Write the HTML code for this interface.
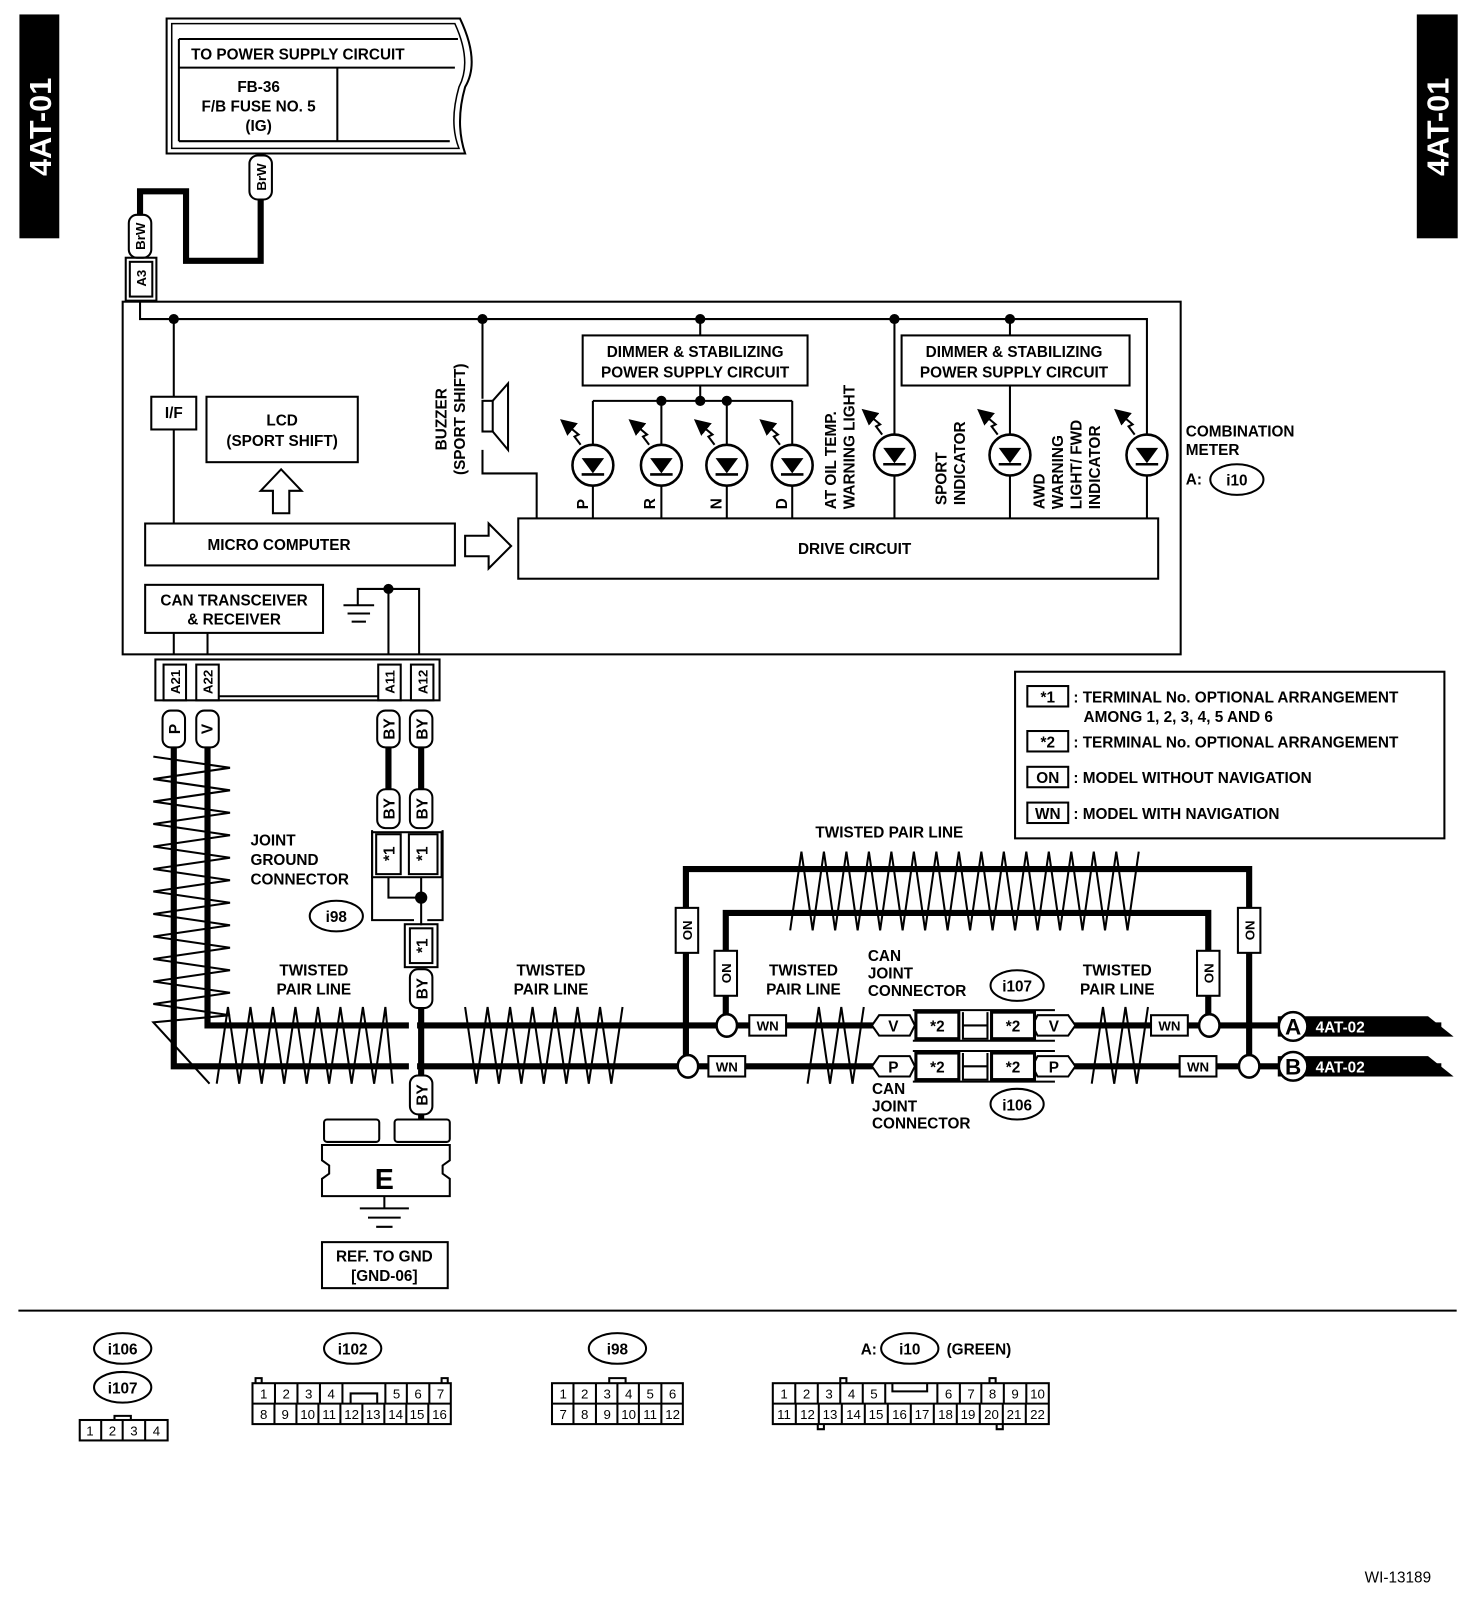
<!DOCTYPE html>
<html><head><meta charset="utf-8"><style>
html,body{margin:0;padding:0;background:#fff}
svg{display:block}
text{font-family:"Liberation Sans",sans-serif;font-weight:bold;fill:#000}
</style></head><body>
<svg width="1472" height="1598" viewBox="0 0 1440 1563" xmlns="http://www.w3.org/2000/svg">
<defs>
<marker id="ah" markerWidth="8" markerHeight="8" refX="4" refY="4" orient="auto"><path d="M0,0 L8,4 L0,8 z" fill="#000"/></marker>
<g id="led"><circle cx="0" cy="0" r="20" fill="#fff" stroke="#000" stroke-width="2.5"/><path d="M-11,-7 L11,-7 L0,8 z" fill="#000"/><line x1="-11" y1="9" x2="11" y2="9" stroke="#000" stroke-width="2.5"/>
<polyline points="-12,-20 -18,-28 -14,-30 -26,-40" fill="none" stroke="#000" stroke-width="2" marker-end="url(#ah)"/></g>
</defs>
<g fill="none" stroke="#000" stroke-width="2">
<rect x="20" y="15" width="37" height="217" fill="#000"/>
<rect x="1387" y="15" width="38" height="217" fill="#000"/>
<path d="M163,18 L450,18 Q470,60 455,85 Q445,120 455,150 L163,150 Z" stroke-width="2"/>
<path d="M168,23 L445,23 Q462,60 449,85 Q439,120 449,145 L168,145 Z" stroke-width="1.5"/>
<line x1="175" y1="38" x2="448" y2="38"/>
<line x1="175" y1="38" x2="175" y2="138"/>
<line x1="175" y1="66" x2="445" y2="66"/>
<line x1="175" y1="138" x2="440" y2="138"/>
<line x1="330" y1="66" x2="330" y2="138"/>
<path d="M255,195 L255,255 L182,255 L182,187 L137,187 L137,210" stroke-width="6"/>
<rect x="244" y="152" width="22" height="43" rx="8" fill="#fff"/>
<rect x="126" y="210" width="22" height="42" rx="8" fill="#fff"/>
<rect x="123" y="252" width="30" height="42"/>
<rect x="127" y="256" width="22" height="34"/>
<rect x="120" y="295" width="1035" height="345"/>
<path d="M137,294 L137,312 L1122,312 L1122,507"/>
<line x1="170" y1="312" x2="170" y2="512"/>
<rect x="148" y="388" width="44" height="32" fill="#fff"/>
<rect x="202" y="388" width="148" height="64"/>
<path d="M267,502 L283,502 L283,480 L295,480 L275,459 L255,480 L267,480 Z"/>
<rect x="142" y="512" width="303" height="41"/>
<path d="M455,524 L478,524 L478,512 L500,534 L478,556 L478,544 L455,544 Z"/>
<rect x="507" y="507" width="626" height="59"/>
<rect x="142" y="572" width="174" height="47"/>
<line x1="170" y1="619" x2="170" y2="640"/><line x1="203" y1="619" x2="203" y2="640"/>
<path d="M350,592 L350,576 L410,576 L410,640 M380,576 L380,640"/>
<line x1="336" y1="592" x2="366" y2="592"/><line x1="340" y1="600" x2="362" y2="600"/><line x1="344" y1="608" x2="358" y2="608"/>
<path d="M472,312 L472,390 M472,440 L472,463 L525,463 L525,507"/>
<rect x="472" y="392" width="10" height="30"/>
<path d="M482,392 L497,375 L497,440 L482,422"/>
<line x1="685" y1="312" x2="685" y2="328"/>
<rect x="570" y="328" width="220" height="49"/>
<line x1="685" y1="377" x2="685" y2="392"/>
<line x1="580" y1="392" x2="775" y2="392"/>
<line x1="580" y1="392" x2="580" y2="507"/><line x1="647" y1="392" x2="647" y2="507"/><line x1="711" y1="392" x2="711" y2="507"/><line x1="775" y1="392" x2="775" y2="507"/>
<line x1="875" y1="312" x2="875" y2="507"/>
<line x1="988" y1="312" x2="988" y2="328"/>
<rect x="882" y="328" width="223" height="49"/>
<line x1="988" y1="377" x2="988" y2="507"/>
<ellipse cx="1210" cy="469" rx="26" ry="15"/>
<rect x="152" y="645" width="278" height="40"/>
<rect x="160" y="650" width="22" height="35"/><rect x="192" y="650" width="22" height="35"/>
<rect x="370" y="650" width="22" height="35"/><rect x="402" y="650" width="22" height="35"/>
<line x1="214" y1="681" x2="370" y2="681"/>
<path d="M170,730 L170,1043 L1410,1043" stroke-width="6"/>
<path d="M203,730 L203,1003 L1410,1003" stroke-width="6"/>
<path d="M380,730 L380,772 M412,730 L412,772" stroke-width="6"/>
<path d="M412,985 L412,1095" stroke-width="6"/>
<rect x="159" y="695" width="22" height="36" rx="8" fill="#fff"/>
<rect x="192" y="695" width="22" height="36" rx="8" fill="#fff"/>
<rect x="369" y="695" width="22" height="36" rx="8" fill="#fff"/>
<rect x="401" y="695" width="22" height="36" rx="8" fill="#fff"/>
<rect x="369" y="772" width="22" height="38" rx="8" fill="#fff"/>
<rect x="401" y="772" width="22" height="38" rx="8" fill="#fff"/>
<path d="M364,812 L364,900 L405,900 M433,812 L433,900 L418,900"/>
<rect x="368" y="816" width="24" height="39"/><rect x="400" y="816" width="28" height="39"/>
<rect x="364" y="814" width="68" height="44"/>
<path d="M380,858 L380,878 L412,878 M412,858 L412,905"/>
<rect x="396" y="904" width="32" height="42"/><rect x="401" y="908" width="22" height="34"/>
<rect x="401" y="948" width="22" height="38" rx="8" fill="#fff"/>
<rect x="401" y="1052" width="22" height="38" rx="8" fill="#fff"/>
<ellipse cx="329" cy="896" rx="26" ry="15"/>
<rect x="400" y="996" width="8" height="14" fill="#fff" stroke="none"/>
<rect x="400" y="1036" width="8" height="14" fill="#fff" stroke="none"/>
<!-- ground E -->
<rect x="317" y="1095" width="54" height="22" rx="3" fill="#fff"/>
<rect x="386" y="1095" width="54" height="22" rx="3" fill="#fff"/>
<path d="M315,1120 L440,1120 L440,1135 L433,1140 L433,1148 L440,1153 L440,1170 L315,1170 L315,1153 L322,1148 L322,1140 L315,1135 Z" fill="#fff"/>
<line x1="376" y1="1170" x2="376" y2="1182"/>
<line x1="352" y1="1182" x2="400" y2="1182"/><line x1="360" y1="1191" x2="392" y2="1191"/><line x1="368" y1="1200" x2="384" y2="1200"/>
<rect x="315" y="1215" width="123" height="45"/>
<polyline points="150,740 225,751 150,762 225,773 150,784 225,795 150,806 225,817 150,828 225,839 150,850 225,861 150,872 225,883 150,894 225,905 150,916 225,927 150,938 225,949 150,960 225,971 150,982 225,993 150,1000 205,1060"/>
<polyline points="212,1060 223,985 234,1060 245,985 256,1060 267,985 278,1060 289,985 300,1060 311,985 322,1060 333,985 344,1060 355,985 366,1060 377,985 384,1060"/>
<polyline points="455,985 466,1060 477,985 488,1060 499,985 510,1060 521,985 532,1060 543,985 554,1060 565,985 576,1060 587,985 598,1060 609,985"/>
<polyline points="773,910 784,833 795,910 806,833 817,910 828,833 839,910 850,833 861,910 872,833 883,910 894,833 905,910 916,833 927,910 938,833 949,910 960,833 971,910 982,833 993,910 1004,833 1015,910 1026,833 1037,910 1048,833 1059,910 1070,833 1081,910 1092,833 1103,910 1114,833"/>
<polyline points="790,1060 801,985 812,1060 823,985 834,1060 845,985"/>
<polyline points="1068,1060 1079,985 1090,1060 1101,985 1112,1060 1123,985"/>
<path d="M671,1043 L671,850 L1222,850 L1222,1043" stroke-width="6"/>
<path d="M710,1003 L710,893 L1182,893 L1182,1003" stroke-width="6"/>
<rect x="661" y="888" width="22" height="44" fill="#fff"/>
<rect x="699" y="930" width="22" height="44" fill="#fff"/>
<rect x="1171" y="930" width="22" height="44" fill="#fff"/>
<rect x="1211" y="888" width="22" height="44" fill="#fff"/>
<ellipse cx="711" cy="1003" rx="10" ry="11" fill="#fff" stroke-width="2.5"/>
<ellipse cx="673" cy="1043" rx="10" ry="11" fill="#fff" stroke-width="2.5"/>
<ellipse cx="1183" cy="1003" rx="10" ry="11" fill="#fff" stroke-width="2.5"/>
<ellipse cx="1222" cy="1043" rx="10" ry="11" fill="#fff" stroke-width="2.5"/>
<rect x="733" y="993" width="36" height="20" fill="#fff"/>
<rect x="693" y="1033" width="36" height="20" fill="#fff"/>
<rect x="1126" y="993" width="36" height="20" fill="#fff"/>
<rect x="1154" y="1033" width="36" height="20" fill="#fff"/>
<rect x="893" y="988" width="139" height="70" fill="#fff" stroke="none"/>
<line x1="893" y1="988" x2="1032" y2="988"/><line x1="893" y1="1018" x2="1032" y2="1018"/>
<line x1="893" y1="1028" x2="1032" y2="1028"/><line x1="893" y1="1058" x2="1032" y2="1058"/>
<path d="M860,993 L890,993 L895,1003 L890,1013 L860,1013 L853,1003 Z" fill="#fff"/>
<path d="M860,1033 L890,1033 L895,1043 L890,1053 L860,1053 L853,1043 Z" fill="#fff"/>
<path d="M1015,993 L1045,993 L1052,1003 L1045,1013 L1015,1013 L1010,1003 Z" fill="#fff"/>
<path d="M1015,1033 L1045,1033 L1052,1043 L1045,1053 L1015,1053 L1010,1043 Z" fill="#fff"/>
<rect x="896" y="990" width="42" height="26" stroke-width="3" fill="#fff"/><rect x="896" y="1030" width="42" height="26" stroke-width="3" fill="#fff"/>
<rect x="970" y="990" width="42" height="26" stroke-width="3" fill="#fff"/><rect x="970" y="1030" width="42" height="26" stroke-width="3" fill="#fff"/>
<path d="M942,990 L942,1016 L966,1016 L966,990 M942,1003 L966,1003 M942,1030 L942,1056 L966,1056 L966,1030 M942,1043 L966,1043"/>
<ellipse cx="995" cy="964" rx="26" ry="15"/>
<ellipse cx="995" cy="1080" rx="26" ry="15"/>
<path d="M1250,994 L1397,994 L1422,1014 L1250,1014 Z" fill="#000" stroke="none"/>
<path d="M1250,1033 L1397,1033 L1422,1053 L1250,1053 Z" fill="#000" stroke="none"/>
<circle cx="1265" cy="1004" r="14" fill="#fff" stroke-width="2.5"/>
<circle cx="1265" cy="1043" r="14" fill="#fff" stroke-width="2.5"/>
<rect x="993" y="657" width="420" height="163"/>
<rect x="1005" y="671" width="40" height="20"/><rect x="1005" y="715" width="40" height="20"/>
<rect x="1005" y="750" width="40" height="20"/><rect x="1005" y="785" width="40" height="20"/>
<line x1="18" y1="1282" x2="1425" y2="1282"/>
<ellipse cx="120" cy="1319" rx="28" ry="15"/><ellipse cx="120" cy="1357" rx="28" ry="15"/>
<rect x="78" y="1389" width="86" height="20"/><path d="M99,1389v20M120,1389v20M142,1389v20M112,1389v-4h16v4"/>
<ellipse cx="345" cy="1319" rx="28" ry="15"/>
<rect x="247" y="1353" width="194" height="40"/><line x1="247" y1="1373" x2="441" y2="1373"/>
<path d="M269,1353v20M291,1353v20M313,1353v20M335,1353v20M377,1353v20M398,1353v20M420,1353v20M343,1373v-10h26v10"/>
<path d="M268.5,1373v20M290,1373v20M311.5,1373v20M333,1373v20M354.5,1373v20M376,1373v20M397.5,1373v20M419,1373v20"/>
<path d="M250,1353v-5h6v5M432,1353v-5h6v5"/>
<ellipse cx="604" cy="1319" rx="28" ry="15"/>
<rect x="540" y="1353" width="128" height="40"/><line x1="540" y1="1373" x2="668" y2="1373"/>
<path d="M561,1353v40M583,1353v40M604,1353v40M625,1353v40M647,1353v40M596,1353v-5h16v5"/>
<ellipse cx="890" cy="1319" rx="28" ry="15"/>
<rect x="756" y="1353" width="270" height="40"/><line x1="756" y1="1373" x2="1026" y2="1373"/>
<path d="M778,1353v20M800,1353v20M822,1353v20M844,1353v20M866,1353v20M917,1353v20M939,1353v20M960,1353v20M982,1353v20M1004,1353v20M873,1353v8h34v-8"/>
<path d="M778.5,1373v20M801,1373v20M823.5,1373v20M846,1373v20M868.5,1373v20M891,1373v20M913.5,1373v20M936,1373v20M958.5,1373v20M981,1373v20M1003.5,1373v20"/>
<path d="M822,1353v-5h6v5M968,1353v-5h6v5M800,1393v5h6v-5M975,1393v5h6v-5"/>
</g>
<g fill="#000">
<circle cx="170" cy="312" r="5"/><circle cx="472" cy="312" r="5"/><circle cx="685" cy="312" r="5"/><circle cx="875" cy="312" r="5"/><circle cx="988" cy="312" r="5"/>
<circle cx="647" cy="392" r="5"/><circle cx="685" cy="392" r="5"/><circle cx="711" cy="392" r="5"/>
<circle cx="380" cy="576" r="5"/><circle cx="412" cy="878" r="6"/>
</g>
<use href="#led" x="580" y="455"/><use href="#led" x="647" y="455"/><use href="#led" x="711" y="455"/><use href="#led" x="775" y="455"/>
<use href="#led" x="875" y="445"/><use href="#led" x="988" y="445"/><use href="#led" x="1122" y="445"/>
<g font-size="30"><text transform="translate(50,124) rotate(-90)" text-anchor="middle" style="fill:#fff">4AT-01</text>
<text transform="translate(1417,124) rotate(-90)" text-anchor="middle" style="fill:#fff">4AT-01</text></g>
<g font-size="15">
<text x="187" y="58">TO POWER SUPPLY CIRCUIT</text>
<text x="253" y="90" text-anchor="middle">FB-36</text>
<text x="253" y="109" text-anchor="middle">F/B FUSE NO. 5</text>
<text x="253" y="128" text-anchor="middle">(IG)</text>
<text x="170" y="409" text-anchor="middle">I/F</text>
<text x="276" y="416" text-anchor="middle">LCD</text>
<text x="276" y="436" text-anchor="middle">(SPORT SHIFT)</text>
<text x="273" y="538" text-anchor="middle">MICRO COMPUTER</text>
<text x="836" y="542" text-anchor="middle">DRIVE CIRCUIT</text>
<text x="229" y="592" text-anchor="middle">CAN TRANSCEIVER</text>
<text x="229" y="611" text-anchor="middle">&amp; RECEIVER</text>
<text x="680" y="349" text-anchor="middle">DIMMER &amp; STABILIZING</text>
<text x="680" y="369" text-anchor="middle">POWER SUPPLY CIRCUIT</text>
<text x="992" y="349" text-anchor="middle">DIMMER &amp; STABILIZING</text>
<text x="992" y="369" text-anchor="middle">POWER SUPPLY CIRCUIT</text>
<text x="1160" y="427">COMBINATION</text>
<text x="1160" y="445">METER</text>
<text x="1160" y="474">A:</text>
<text x="1210" y="475" text-anchor="middle">i10</text>
<text transform="translate(437,410) rotate(-90)" text-anchor="middle">BUZZER</text>
<text transform="translate(455,410) rotate(-90)" text-anchor="middle">(SPORT SHIFT)</text>
<text transform="translate(575,498) rotate(-90)">P</text>
<text transform="translate(641,498) rotate(-90)">R</text>
<text transform="translate(706,498) rotate(-90)">N</text>
<text transform="translate(770,498) rotate(-90)">D</text>
<text transform="translate(818,498) rotate(-90)">AT OIL TEMP.</text>
<text transform="translate(836,498) rotate(-90)">WARNING LIGHT</text>
<text transform="translate(926,494) rotate(-90)">SPORT</text>
<text transform="translate(944,494) rotate(-90)">INDICATOR</text>
<text transform="translate(1022,498) rotate(-90)">AWD</text>
<text transform="translate(1040,498) rotate(-90)">WARNING</text>
<text transform="translate(1058,498) rotate(-90)">LIGHT/ FWD</text>
<text transform="translate(1076,498) rotate(-90)">INDICATOR</text>
<text transform="translate(260,173) rotate(-90)" text-anchor="middle" font-size="13">BrW</text>
<text transform="translate(142,231) rotate(-90)" text-anchor="middle" font-size="13">BrW</text>
<text transform="translate(143,272) rotate(-90)" text-anchor="middle" font-size="13">A3</text>
<text transform="translate(176,667) rotate(-90)" text-anchor="middle" font-size="13">A21</text>
<text transform="translate(208,667) rotate(-90)" text-anchor="middle" font-size="13">A22</text>
<text transform="translate(386,667) rotate(-90)" text-anchor="middle" font-size="13">A11</text>
<text transform="translate(418,667) rotate(-90)" text-anchor="middle" font-size="13">A12</text>
<text transform="translate(176,713) rotate(-90)" text-anchor="middle">P</text>
<text transform="translate(208,713) rotate(-90)" text-anchor="middle">V</text>
<text transform="translate(386,713) rotate(-90)" text-anchor="middle">BY</text>
<text transform="translate(418,713) rotate(-90)" text-anchor="middle">BY</text>
<text transform="translate(386,791) rotate(-90)" text-anchor="middle">BY</text>
<text transform="translate(418,791) rotate(-90)" text-anchor="middle">BY</text>
<text transform="translate(386,835) rotate(-90)" text-anchor="middle">*1</text>
<text transform="translate(418,835) rotate(-90)" text-anchor="middle">*1</text>
<text transform="translate(418,925) rotate(-90)" text-anchor="middle">*1</text>
<text transform="translate(418,967) rotate(-90)" text-anchor="middle">BY</text>
<text transform="translate(418,1071) rotate(-90)" text-anchor="middle">BY</text>
<text x="245" y="827">JOINT</text>
<text x="245" y="846">GROUND</text>
<text x="245" y="865">CONNECTOR</text>
<text x="329" y="902" text-anchor="middle">i98</text>
<text x="307" y="954" text-anchor="middle">TWISTED</text>
<text x="307" y="973" text-anchor="middle">PAIR LINE</text>
<text x="539" y="954" text-anchor="middle">TWISTED</text>
<text x="539" y="973" text-anchor="middle">PAIR LINE</text>
<text x="870" y="819" text-anchor="middle">TWISTED PAIR LINE</text>
<text x="786" y="954" text-anchor="middle">TWISTED</text>
<text x="786" y="973" text-anchor="middle">PAIR LINE</text>
<text x="1093" y="954" text-anchor="middle">TWISTED</text>
<text x="1093" y="973" text-anchor="middle">PAIR LINE</text>
<text x="849" y="940">CAN</text>
<text x="849" y="957">JOINT</text>
<text x="849" y="974">CONNECTOR</text>
<text x="995" y="970" text-anchor="middle">i107</text>
<text x="853" y="1070">CAN</text>
<text x="853" y="1087">JOINT</text>
<text x="853" y="1104">CONNECTOR</text>
<text x="995" y="1086" text-anchor="middle">i106</text>
<text transform="translate(677,910) rotate(-90)" text-anchor="middle" font-size="13">ON</text>
<text transform="translate(715,952) rotate(-90)" text-anchor="middle" font-size="13">ON</text>
<text transform="translate(1187,952) rotate(-90)" text-anchor="middle" font-size="13">ON</text>
<text transform="translate(1227,910) rotate(-90)" text-anchor="middle" font-size="13">ON</text>
<text x="751" y="1008" text-anchor="middle" font-size="13">WN</text>
<text x="711" y="1048" text-anchor="middle" font-size="13">WN</text>
<text x="1144" y="1008" text-anchor="middle" font-size="13">WN</text>
<text x="1172" y="1048" text-anchor="middle" font-size="13">WN</text>
<text x="874" y="1009" text-anchor="middle">V</text>
<text x="874" y="1049" text-anchor="middle">P</text>
<text x="1031" y="1009" text-anchor="middle">V</text>
<text x="1031" y="1049" text-anchor="middle">P</text>
<text x="917" y="1009" text-anchor="middle">*2</text>
<text x="917" y="1049" text-anchor="middle">*2</text>
<text x="991" y="1009" text-anchor="middle">*2</text>
<text x="991" y="1049" text-anchor="middle">*2</text>
<text x="1265" y="1012" text-anchor="middle" font-size="22">A</text>
<text x="1265" y="1051" text-anchor="middle" font-size="22">B</text>
<text x="1287" y="1010" style="fill:#fff">4AT-02</text>
<text x="1287" y="1049" style="fill:#fff">4AT-02</text>
<text x="1025" y="687" text-anchor="middle">*1</text>
<text x="1025" y="731" text-anchor="middle">*2</text>
<text x="1025" y="766" text-anchor="middle">ON</text>
<text x="1025" y="801" text-anchor="middle">WN</text>
<text x="1050" y="687">: TERMINAL No. OPTIONAL ARRANGEMENT</text>
<text x="1060" y="706">AMONG 1, 2, 3, 4, 5 AND 6</text>
<text x="1050" y="731">: TERMINAL No. OPTIONAL ARRANGEMENT</text>
<text x="1050" y="766">: MODEL WITHOUT NAVIGATION</text>
<text x="1050" y="801">: MODEL WITH NAVIGATION</text>
<text x="376" y="1163" text-anchor="middle" font-size="28">E</text>
<text x="376" y="1234" text-anchor="middle">REF. TO GND</text>
<text x="376" y="1253" text-anchor="middle">[GND-06]</text>
<text x="120" y="1325" text-anchor="middle">i106</text>
<text x="120" y="1363" text-anchor="middle">i107</text>
<text x="345" y="1325" text-anchor="middle">i102</text>
<text x="604" y="1325" text-anchor="middle">i98</text>
<text x="890" y="1325" text-anchor="middle">i10</text>
<text x="842" y="1325">A:</text>
<text x="926" y="1325">(GREEN)</text>
<text x="1335" y="1548" style="font-weight:normal">WI-13189</text>
</g>
<g font-size="13" text-anchor="middle">
<text x="88" y="1404" style="font-weight:normal">1</text><text x="110" y="1404" style="font-weight:normal">2</text><text x="131" y="1404" style="font-weight:normal">3</text><text x="153" y="1404" style="font-weight:normal">4</text>
<text x="258" y="1368" style="font-weight:normal">1</text><text x="280" y="1368" style="font-weight:normal">2</text><text x="302" y="1368" style="font-weight:normal">3</text><text x="324" y="1368" style="font-weight:normal">4</text><text x="388" y="1368" style="font-weight:normal">5</text><text x="409" y="1368" style="font-weight:normal">6</text><text x="431" y="1368" style="font-weight:normal">7</text>
<text x="258" y="1388" style="font-weight:normal">8</text><text x="279" y="1388" style="font-weight:normal">9</text><text x="301" y="1388" style="font-weight:normal">10</text><text x="322" y="1388" style="font-weight:normal">11</text><text x="344" y="1388" style="font-weight:normal">12</text><text x="365" y="1388" style="font-weight:normal">13</text><text x="387" y="1388" style="font-weight:normal">14</text><text x="408" y="1388" style="font-weight:normal">15</text><text x="430" y="1388" style="font-weight:normal">16</text>
<text x="551" y="1368" style="font-weight:normal">1</text><text x="572" y="1368" style="font-weight:normal">2</text><text x="594" y="1368" style="font-weight:normal">3</text><text x="615" y="1368" style="font-weight:normal">4</text><text x="636" y="1368" style="font-weight:normal">5</text><text x="658" y="1368" style="font-weight:normal">6</text>
<text x="551" y="1388" style="font-weight:normal">7</text><text x="572" y="1388" style="font-weight:normal">8</text><text x="594" y="1388" style="font-weight:normal">9</text><text x="615" y="1388" style="font-weight:normal">10</text><text x="636" y="1388" style="font-weight:normal">11</text><text x="658" y="1388" style="font-weight:normal">12</text>
<text x="767" y="1368" style="font-weight:normal">1</text><text x="789" y="1368" style="font-weight:normal">2</text><text x="811" y="1368" style="font-weight:normal">3</text><text x="833" y="1368" style="font-weight:normal">4</text><text x="855" y="1368" style="font-weight:normal">5</text><text x="928" y="1368" style="font-weight:normal">6</text><text x="950" y="1368" style="font-weight:normal">7</text><text x="971" y="1368" style="font-weight:normal">8</text><text x="993" y="1368" style="font-weight:normal">9</text><text x="1015" y="1368" style="font-weight:normal">10</text>
<text x="767" y="1388" style="font-weight:normal">11</text><text x="790" y="1388" style="font-weight:normal">12</text><text x="812" y="1388" style="font-weight:normal">13</text><text x="835" y="1388" style="font-weight:normal">14</text><text x="857" y="1388" style="font-weight:normal">15</text><text x="880" y="1388" style="font-weight:normal">16</text><text x="902" y="1388" style="font-weight:normal">17</text><text x="925" y="1388" style="font-weight:normal">18</text><text x="947" y="1388" style="font-weight:normal">19</text><text x="970" y="1388" style="font-weight:normal">20</text><text x="992" y="1388" style="font-weight:normal">21</text><text x="1015" y="1388" style="font-weight:normal">22</text>
</g>
</svg>
</body></html>
